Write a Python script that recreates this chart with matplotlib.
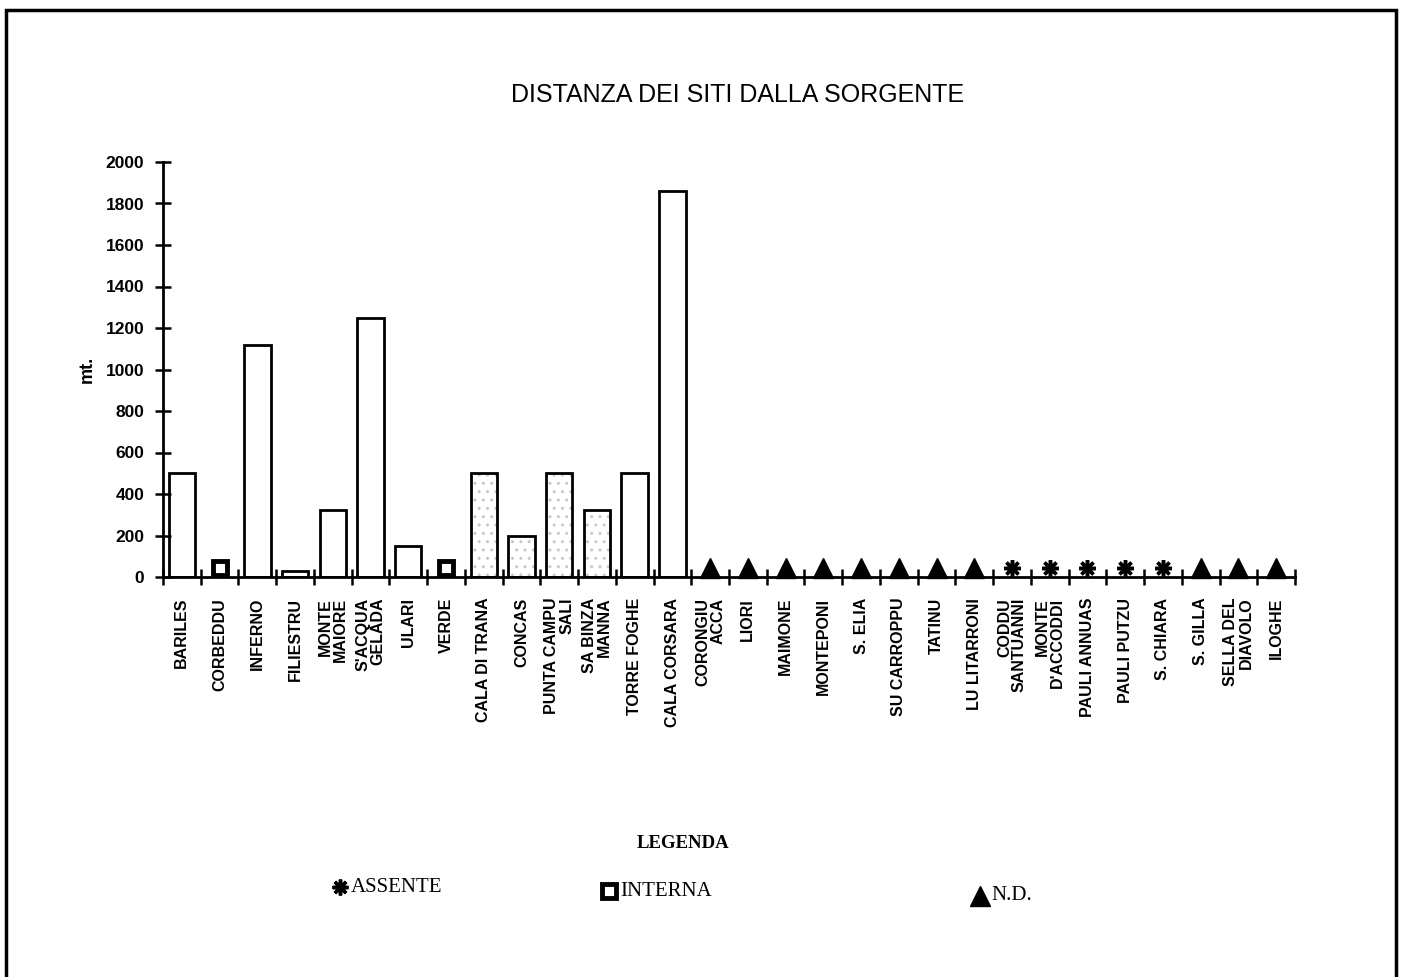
import matplotlib.pyplot as plt
from matplotlib.lines import Line2D
from matplotlib.patches import Rectangle

plt.rcParams['font.family'] = ['Liberation Sans', 'DejaVu Sans']

# dati
siti = ['BARILES', 'CORBEDDU', 'INFERNO', 'FILIESTRU', 'MONTE\nMAIORE',
        "S'ACQUA\nGELADA", 'ULARI', 'VERDE', 'CALA DI TRANA', 'CONCAS',
        'PUNTA CAMPU\nSALI', 'SA BINZA\nMANNA', 'TORRE FOGHE', 'CALA CORSARA',
        'CORONGIU\nACCA', 'LIORI', 'MAIMONE', 'MONTEPONI', 'S. ELIA',
        'SU CARROPPU', 'TATINU', 'LU LITARRONI', 'CODDU\nSANTUANNI',
        "MONTE\nD'ACCODDI", 'PAULI ANNUAS', 'PAULI PUTZU', 'S. CHIARA',
        'S. GILLA', 'SELLA DEL\nDIAVOLO', 'ILOGHE']
distanza = [500, 0, 1120, 30, 325, 1250, 150, 0, 500, 200, 500, 325, 500, 1860,
            0, 0, 0, 0, 0, 0, 0, 0, 0, 0, 0, 0, 0, 0, 0, 0]
# stato: '' = distanza misurata, 'I' = interna, 'A' = assente, 'N' = n.d.
stato = ['', 'I', '', '', '', '', '', 'I', '', '', '', '', '', '',
         'N', 'N', 'N', 'N', 'N', 'N', 'N', 'N', 'A', 'A', 'A', 'A', 'A',
         'N', 'N', 'N']
punteggiato = [False] * 8 + [True] * 4 + [False] * 18
y_ticks = [0, 200, 400, 600, 800, 1000, 1200, 1400, 1600, 1800, 2000]

MARKER_Y = 45
simboli = {
    'I': dict(marker='s', markersize=10, markerfacecolor='white',
              markeredgecolor='black', markeredgewidth=3.5),
    'A': dict(marker=(8, 2, 0), markersize=12, markeredgecolor='black',
              markeredgewidth=2.5),
    'N': dict(marker='^', markersize=15, markerfacecolor='black',
              markeredgecolor='black'),
}

fig = plt.figure(figsize=(14.01, 9.77), dpi=100)
ax = fig.add_axes([163 / 1401, 1 - 577 / 977, 1132 / 1401, 415 / 977])

n = len(siti)
centri = [i + 0.5 for i in range(n)]

# barre (quelle punteggiate con un tratteggio leggero)
for c, v, p in zip(centri, distanza, punteggiato):
    if v <= 0:
        continue
    if p:
        ax.bar(c, v, width=0.7, color='white', edgecolor='#c8c8c8',
               hatch='..', linewidth=0)
    ax.bar(c, v, width=0.7, fill=False, edgecolor='black', linewidth=2)

for c, s in zip(centri, stato):
    if s:
        ax.plot(c, MARKER_Y, linestyle='none', clip_on=False, **simboli[s])

ax.set_xlim(0, n)
ax.set_ylim(0, 2000)
ax.spines['top'].set_visible(False)
ax.spines['right'].set_visible(False)
ax.spines['left'].set_linewidth(2)
ax.spines['bottom'].set_linewidth(2)

ax.set_yticks(y_ticks)
ax.set_yticklabels([str(t) for t in y_ticks], fontweight='bold', fontsize=12.5)
ax.set_xticks(range(n + 1))
ax.set_xticklabels([])
ax.set_xticks(centri, minor=True)
ax.set_xticklabels(siti, minor=True, rotation=90, fontweight='bold',
                   fontsize=11.5, va='top', ha='center', multialignment='right',
                   linespacing=1.0)
ax.tick_params(axis='both', which='major', direction='inout', length=11,
               width=1.8)
ax.tick_params(axis='y', pad=8)
ax.tick_params(axis='x', which='minor', length=0, pad=15)

ax.set_ylabel('mt.', fontweight='bold', fontsize=13)
ax.yaxis.set_label_coords(-0.059, 0.5)

fig.text(738 / 1401, 1 - 95 / 977, 'DISTANZA DEI SITI DALLA SORGENTE',
         ha='center', va='center', fontsize=18)

# legenda
serif = ['Liberation Serif', 'DejaVu Serif']
fig.text(683 / 1401, 1 - 843 / 977, 'LEGENDA', family=serif,
         fontweight='bold', fontsize=13.5, ha='center', va='center')
voci = [('A', 'ASSENTE', 340, 887), ('I', 'INTERNA', 609, 891),
        ('N', 'N.D.', 980, 896)]
for s, testo, x, y in voci:
    kw = dict(simboli[s])
    kw['markersize'] = kw['markersize'] * 0.95
    fig.add_artist(Line2D([x / 1401], [1 - y / 977], transform=fig.transFigure,
                          linestyle='none', **kw))
    fig.text((x + 11) / 1401, 1 - y / 977, testo, family=serif, fontsize=15,
             ha='left', va='center')

# cornice
fig.add_artist(Rectangle((6 / 1401, -0.05), 1390 / 1401, 1.05 - 10 / 977,
                         transform=fig.transFigure, fill=False,
                         edgecolor='black', linewidth=2.5))

fig.savefig('out.png', dpi=100)
